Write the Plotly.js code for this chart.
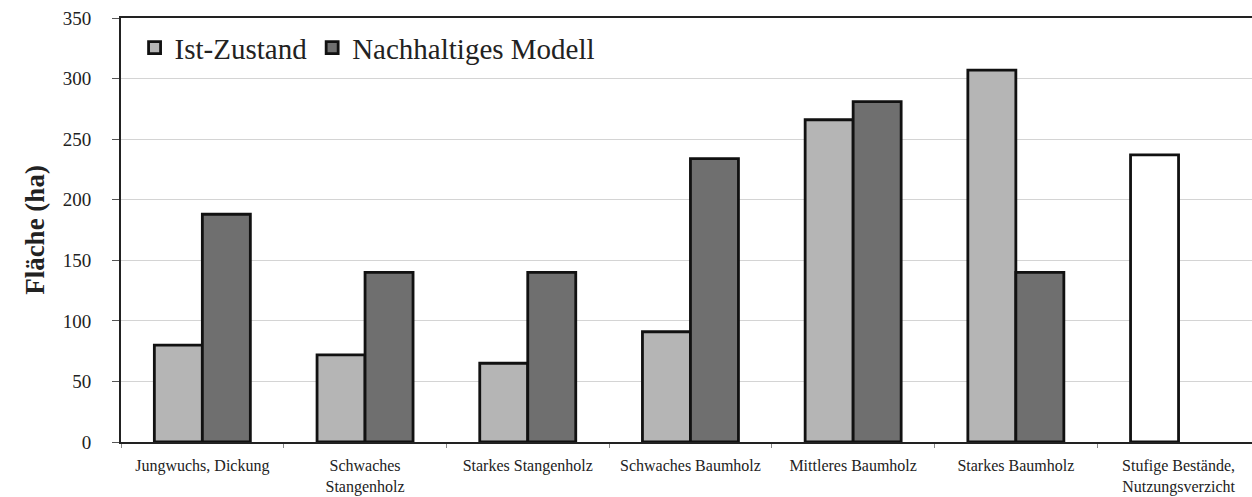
<!DOCTYPE html>
<html>
<head>
<meta charset="utf-8">
<script src="https://cdn.plot.ly/plotly-3.0.1.min.js"></script>
<style>html,body{margin:0;padding:0;background:#fff;}#chart{width:1252px;height:497px;}</style>
</head>
<body>
<div id="chart"></div>
<script>
const categories = ["Jungwuchs, Dickung", "Schwaches<br>Stangenholz", "Starkes Stangenholz", "Schwaches Baumholz", "Mittleres Baumholz", "Starkes Baumholz", "Stufige Bestände,<br>Nutzungsverzicht"];
const istZustand = [80, 72, 65, 91, 266, 307, 237];
const nachhaltigesModell = [188, 140, 140, 234, 281, 140, null];
const yTicks = [0, 50, 100, 150, 200, 250, 300, 350];

const serif = "Liberation Serif, Times New Roman, serif";
const ML = 121, W = 1252, catW = 162.7;
const xEnd = -0.5 + (W - ML) / catW;

const istColors = istZustand.map((v, i) => i === categories.length - 1 ? "#ffffff" : "#b5b5b5");

const traces = [
  {type: "bar", name: "Ist-Zustand", x: categories, y: istZustand,
   marker: {color: istColors, line: {color: "#111", width: 2.8}}},
  {type: "bar", name: "Nachhaltiges Modell", x: categories, y: nachhaltigesModell,
   marker: {color: "#6f6f6f", line: {color: "#111", width: 2.8}}}
];

const layout = {
  width: W, height: 497,
  margin: {l: ML, r: 0, t: 18, b: 55},
  paper_bgcolor: "#fff", plot_bgcolor: "#fff",
  font: {family: serif, color: "#222"},
  barmode: "group", bargap: 0.41, bargroupgap: 0,
  showlegend: true,
  legend: {orientation: "h", x: 0.012, xanchor: "left", y: 0.99, yanchor: "top",
           font: {family: serif, size: 29, color: "#222"}, bgcolor: "rgba(0,0,0,0)",
           traceorder: "normal", itemwidth: 30},
  xaxis: {type: "category", range: [-0.5, xEnd], showline: true, mirror: true,
          linecolor: "#222", linewidth: 2, ticks: "outside", tickson: "boundaries",
          ticklen: 4, tickcolor: "#888", tickwidth: 1, showgrid: false,
          tickfont: {family: serif, size: 16, color: "#222"}, ticklabelstandoff: 8, fixedrange: true},
  yaxis: {range: [0, 350], tickvals: yTicks, ticktext: yTicks.map(String),
          showline: true, linecolor: "#222", linewidth: 2, ticks: "outside", ticklen: 7,
          tickcolor: "#555", tickwidth: 1, showgrid: true, gridcolor: "#d4d4d4", gridwidth: 1,
          zeroline: false, tickfont: {family: serif, size: 19, color: "#222"},
          ticklabelstandoff: 17,
          title: {text: "<b>Fläche (ha)</b>", font: {family: serif, size: 27, color: "#222"}, standoff: 10}}
};

Plotly.newPlot("chart", traces, layout, {displayModeBar: false, staticPlot: true});
</script>
</body>
</html>
